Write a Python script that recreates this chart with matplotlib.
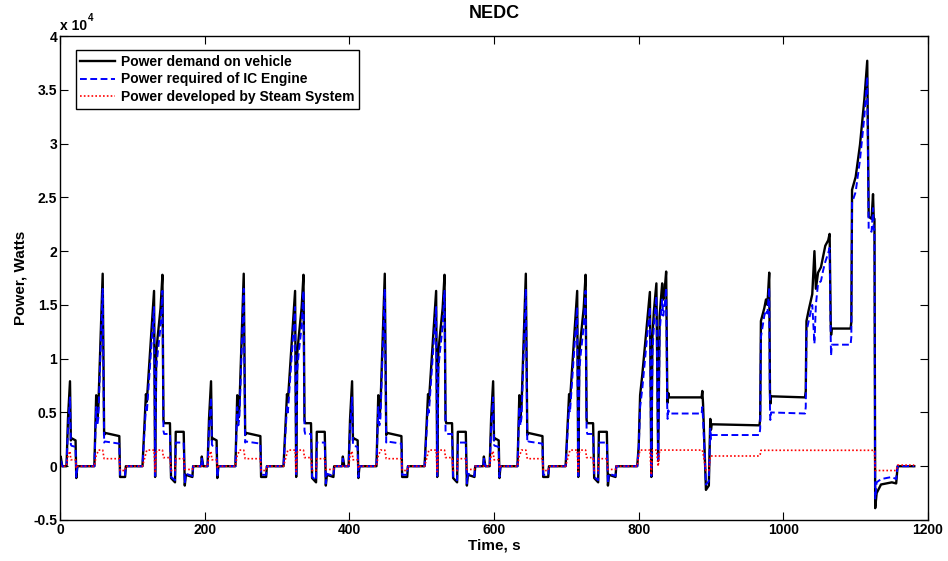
import numpy as np
import matplotlib
matplotlib.use("Agg")
import matplotlib.pyplot as plt

# values in units of 1e4 W
# one urban (ECE) cycle, time relative to cycle start; it repeats 4 times
ece_t = [0, 1, 3, 9, 11, 13.8, 15, 16, 21.5, 22.5, 24, 47.5, 50, 51.5, 53, 59, 61, 62, 82, 83,
         90, 91, 114, 118.8, 120, 130, 131.5, 133, 135, 139, 141.6, 143, 144, 152, 153.5, 159,
         160, 171, 172.5, 174, 183, 184, 195]
ece_demand = [0, 0.09, 0, 0, 0.44, 0.79, 0.24, 0.26, 0.24, -0.11, 0, 0, 0.66, 0.45, 0.55, 1.79,
              0.29, 0.31, 0.28, -0.1, -0.1, 0, 0, 0.67, 0.6, 1.63, -0.1, 1.05, 1.2, 1.47, 1.78,
              0.43, 0.4, 0.4, -0.11, -0.15, 0.32, 0.32, -0.18, -0.08, -0.1, 0, 0]
ece_engine = [0, 0.07, 0, 0, 0.35, 0.64, 0.2, 0.19, 0.18, -0.1, 0, 0, 0.55, 0.38, 0.45, 1.65,
              0.22, 0.23, 0.21, -0.08, -0.08, 0, 0, 0.55, 0.5, 1.48, -0.09, 0.9, 1.05, 1.3, 1.63,
              0.33, 0.3, 0.3, -0.1, -0.13, 0.22, 0.22, -0.16, -0.07, -0.09, 0, 0]
ece_steam = [0, 0, 0, 0, 0.1, 0.14, 0.06, 0.06, 0.06, -0.02, 0, 0, 0.1, 0.12, 0.15, 0.15,
             0.07, 0.07, 0.07, -0.04, -0.04, 0, 0, 0.12, 0.15, 0.15, -0.05, 0.13, 0.15, 0.15, 0.15,
             0.08, 0.08, 0.08, -0.04, -0.04, 0.07, 0.07, -0.03, -0.03, -0.03, 0, 0]
ece_starts = [0, 195, 390, 585]

# extra-urban (EUDC) part, absolute time
eudc_t = [780, 798, 800, 802, 805, 815.5, 817.5, 819, 821, 824.5, 827, 829, 832.5, 834, 836, 838,
          839.5, 840, 841, 842, 887, 888, 889, 893, 897, 899, 900, 901, 967, 968, 969, 973.7, 976,
          978, 980.5, 981.5, 982, 983, 1030, 1031, 1032, 1035, 1040, 1043, 1045, 1048, 1052, 1055,
          1058, 1062, 1064, 1065.5, 1066, 1067, 1093, 1094, 1095, 1100, 1106, 1112, 1116, 1118,
          1122, 1124, 1125, 1126, 1127, 1129, 1135, 1150, 1156, 1158, 1181]
eudc_demand = [0, 0, 0.18, 0.66, 0.85, 1.62, -0.1, 1.2, 1.44, 1.7, 0.05, 1.4, 1.7, 1.55, 1.64, 1.81,
               0.70, 0.59, 0.68, 0.64, 0.64, 0.70, 0.58, -0.22, -0.18, 0.44, 0.34, 0.39, 0.38, 0.44,
               1.35, 1.47, 1.55, 1.5, 1.8, 0.70, 0.58, 0.65, 0.64, 0.70, 1.35, 1.45, 1.6, 2.0, 1.65,
               1.8, 1.85, 1.95, 2.05, 2.1, 2.16, 1.34, 1.22, 1.28, 1.28, 1.34, 2.57, 2.69, 2.99,
               3.41, 3.77, 2.32, 2.3, 2.53, 2.3, 2.3, -0.39, -0.25, -0.17, -0.15, -0.16, 0, 0]
eudc_engine = [0, 0, 0.15, 0.55, 0.72, 1.48, -0.09, 1.05, 1.3, 1.58, 0.04, 1.25, 1.55, 1.4, 1.5, 1.66,
               0.55, 0.44, 0.52, 0.49, 0.49, 0.55, 0.44, -0.17, -0.14, 0.35, 0.25, 0.29, 0.29, 0.35,
               1.2, 1.4, 1.45, 1.42, 1.66, 0.55, 0.43, 0.5, 0.49, 0.55, 1.25, 1.35, 1.5, 1.14, 1.5,
               1.7, 1.72, 1.82, 1.9, 1.98, 2.03, 1.2, 1.03, 1.13, 1.13, 1.2, 2.45, 2.55, 2.85,
               3.25, 3.62, 2.2, 2.18, 2.4, 2.2, 2.2, -0.3, -0.15, -0.12, -0.1, -0.12, 0, 0]
eudc_steam = [0, 0, 0.1, 0.15, 0.15, 0.15, -0.08, 0.15, 0.15, 0.15, 0.0, 0.15, 0.15, 0.15, 0.15, 0.15,
              0.15, 0.15, 0.15, 0.15, 0.15, 0.15, 0.12, -0.04, -0.04, 0.09, 0.095, 0.095, 0.095, 0.11,
              0.148, 0.148, 0.148, 0.148, 0.148, 0.148, 0.148, 0.148, 0.148, 0.148, 0.148, 0.148,
              0.148, 0.148, 0.148, 0.148, 0.148, 0.148, 0.148, 0.148, 0.148, 0.148, 0.148, 0.148,
              0.148, 0.148, 0.148, 0.148, 0.148, 0.148, 0.148, 0.148, 0.148, 0.148, 0.148, 0.148,
              -0.04, -0.04, -0.04, -0.04, -0.04, 0.01, 0.01]

series_labels = ["Power demand on vehicle", "Power required of IC Engine",
                 "Power developed by Steam System"]
x_ticks = [0, 200, 400, 600, 800, 1000, 1200]
y_ticks = [-0.5, 0, 0.5, 1, 1.5, 2, 2.5, 3, 3.5, 4]


def full_series(ece_vals, eudc_vals):
    t = np.concatenate([np.asarray(ece_t) + s for s in ece_starts] + [np.asarray(eudc_t)])
    v = np.concatenate([np.asarray(ece_vals)] * len(ece_starts) + [np.asarray(eudc_vals)])
    return t, v


plt.rcParams["font.family"] = ["Liberation Sans", "DejaVu Sans"]
plt.rcParams["font.weight"] = "bold"

fig = plt.figure(figsize=(9.48, 5.61), dpi=100)
ax = fig.add_axes([0.0633, 0.0731, 0.9156, 0.8627])

t, v = full_series(ece_demand, eudc_demand)
ax.plot(t, v, color="black", lw=1.7, label=series_labels[0])
t, v = full_series(ece_engine, eudc_engine)
ax.plot(t, v, color="#0000ff", lw=1.4, ls=(0, (3.5, 1.8)), label=series_labels[1])
t, v = full_series(ece_steam, eudc_steam)
ax.plot(t, v, color="#ff0000", lw=1.2, ls=(0, (1, 1.3)), label=series_labels[2])

ax.set_xlim(0, 1200)
ax.set_ylim(-0.5, 4)
ax.set_xticks(x_ticks)
ax.set_yticks(y_ticks)
ax.set_yticklabels([f"{y:g}" for y in y_ticks])
ax.tick_params(direction="in", length=6, width=0.8, top=True, right=True,
               labelsize=10, pad=2)
for lab in ax.get_xticklabels() + ax.get_yticklabels():
    lab.set_fontweight("bold")
for sp in ax.spines.values():
    sp.set_linewidth(1.0)

ax.set_title("NEDC", fontsize=13, fontweight="bold", pad=13)
ax.set_xlabel("Time, s", fontsize=11, fontweight="bold", labelpad=1)
ax.set_ylabel("Power, Watts", fontsize=11, fontweight="bold", labelpad=4)
ax.text(0.0, 1.006, "x 10", transform=ax.transAxes, fontsize=10, fontweight="bold",
        ha="left", va="bottom")
ax.text(0.032, 1.026, "4", transform=ax.transAxes, fontsize=7, fontweight="bold",
        ha="left", va="bottom")

leg = ax.legend(loc="upper left", bbox_to_anchor=(0.018, 0.971), borderaxespad=0,
                fancybox=False, framealpha=1, edgecolor="black", handlelength=2.45,
                prop={"weight": "bold", "size": 10}, labelspacing=0.25, borderpad=0.35,
                handletextpad=0.45)
leg.get_frame().set_linewidth(1.0)

fig.savefig("out.png", dpi=100)
